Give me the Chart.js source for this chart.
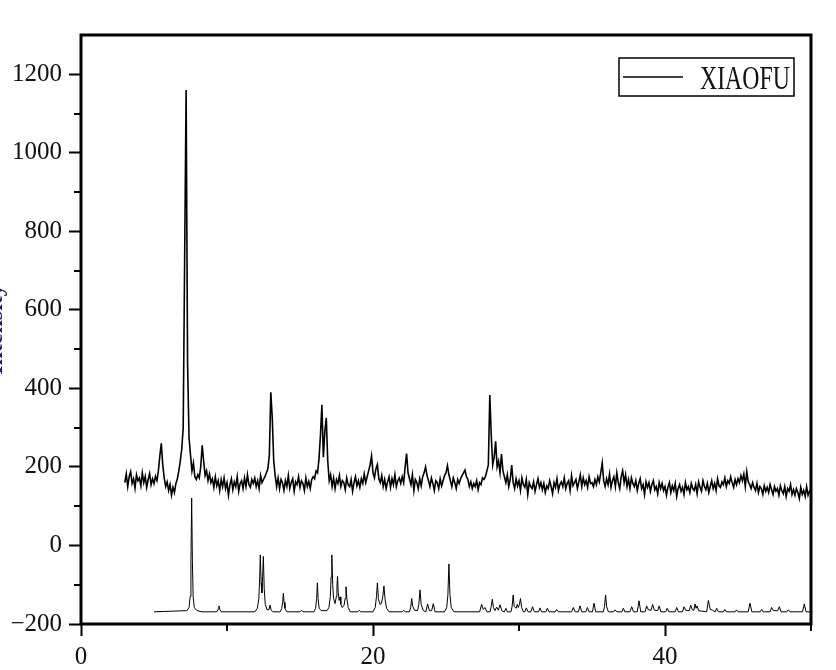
<!DOCTYPE html>
<html>
<head>
<meta charset="utf-8">
<script src="https://cdn.jsdelivr.net/npm/chart.js@4.4.1/dist/chart.umd.min.js"></script>
<style>
  html, body { margin: 0; padding: 0; background: #fff; overflow: hidden; }
  #xrd { display: block; margin-left: -20px; }
</style>
</head>
<body>
<canvas id="xrd" width="856" height="670"></canvas>
<script>
// XRD pattern: measured sample (offset up) and simulated pattern (offset down)

// ------------------------------
// measured pattern, one value every 0.1 deg from 3.0 to 50.0 (2-theta)
const EXP_START = 3.0;
const EXP_STEP = 0.1;
const expIntensity = [
  160,182,150,175,188,158,170,146,180,165,   // 3
  172,152,185,160,176,148,168,183,155,170,   // 4
  158,176,165,190,228,260,205,172,150,162,   // 5
  140,155,128,148,135,158,170,190,215,245,   // 6
  300,733,1160,462,275,230,190,210,175,168,  // 7
  180,172,200,255,215,178,190,165,182,160,   // 8
  170,148,175,152,165,140,168,150,172,145,   // 9
  160,128,155,170,142,162,150,175,138,158,   // 10
  165,145,172,150,180,155,148,168,158,172,   // 11
  150,165,145,178,160,168,175,185,195,230,   // 12
  390,325,215,178,150,172,145,168,160,140,   // 13
  165,150,178,145,160,170,138,162,155,175,   // 14
  148,165,158,140,172,150,163,145,168,175,   // 15
  170,190,185,220,280,358,225,290,325,215,   // 16
  165,180,150,172,145,168,158,178,150,165,   // 17
  160,142,172,155,150,168,138,160,175,152,   // 18
  165,148,170,158,182,160,175,190,205,228,   // 19
  185,172,195,206,170,160,178,150,168,145,   // 20
  162,175,148,170,155,180,150,165,172,158,   // 21
  175,160,200,234,185,170,155,180,140,168,   // 22
  160,145,170,152,175,185,200,178,165,150,   // 23
  172,158,140,165,160,145,170,152,165,178,   // 24
  185,203,180,165,150,172,160,145,168,158,   // 25
  170,178,185,192,175,168,150,162,145,158,   // 26
  150,165,142,160,155,172,168,175,190,205,   // 27
  383,280,205,225,265,200,215,185,233,190,   // 28
  175,160,180,150,168,205,160,145,170,152,   // 29
  165,140,172,155,148,168,130,160,150,145,   // 30
  162,138,155,170,148,160,142,158,135,152,   // 31
  145,165,150,132,160,148,170,140,155,162,   // 32
  150,172,145,158,165,140,178,152,160,168,   // 33
  145,162,180,150,172,155,165,148,175,158,   // 34
  160,150,168,155,175,162,185,210,165,150,   // 35
  170,155,182,148,165,175,150,185,160,145,   // 36
  175,190,160,180,150,168,145,172,158,150,   // 37
  165,140,158,170,145,155,130,162,148,160,   // 38
  138,155,165,142,150,132,160,145,158,140,   // 39
  150,128,148,160,135,152,140,158,125,145,   // 40
  155,138,148,130,160,142,150,135,158,145,   // 41
  140,155,132,162,148,138,165,150,142,158,   // 42
  135,150,165,145,158,140,170,152,148,162,   // 43
  155,172,150,165,158,175,160,148,168,155,   // 44
  170,160,178,165,182,150,188,162,155,145,   // 45
  160,148,140,158,135,150,145,130,152,138,   // 46
  148,135,155,142,130,150,138,145,128,152,   // 47
  140,132,150,125,145,138,155,130,142,128,   // 48
  145,135,120,148,130,140,125,150,128,138,   // 49
  132                                        // 50
];

// simulated pattern (2-theta / intensity pairs, same order)
const simTwoTheta = [
  5.0, 7.25, 7.4, 7.48, 7.53, 7.58, 7.63, 7.68, 7.76, 7.95, 8.3,
  9.3, 9.4, 9.45, 9.5, 9.6,
  11.9, 12.08, 12.18, 12.24, 12.28, 12.34, 12.39, 12.44, 12.49, 12.55, 12.62, 12.75, 12.88, 12.95, 13.02, 13.15,
  13.65, 13.75, 13.81, 13.86, 13.91, 13.97, 14.1,
  15.0, 15.1, 15.2,
  15.95, 16.07, 16.14, 16.19, 16.24, 16.31, 16.45,
  16.85, 16.98, 17.08, 17.13, 17.18, 17.24, 17.3, 17.4, 17.49, 17.53, 17.57, 17.62, 17.68, 17.74, 17.8, 17.9,
  18.02, 18.09, 18.15, 18.21, 18.3, 18.45,
  18.97, 19.07, 19.17,
  20.0, 20.15, 20.24, 20.3, 20.37, 20.47, 20.58, 20.68, 20.75, 20.82, 20.93, 21.1,
  22.0, 22.1, 22.2,
  22.5, 22.58, 22.65, 22.72, 22.85, 23.05, 23.14, 23.22, 23.3, 23.45,
  23.62, 23.74, 23.86, 24.02, 24.13, 24.25,
  24.9, 25.05, 25.13, 25.2, 25.27, 25.36, 25.55,
  27.3, 27.44, 27.55, 27.67, 27.8,
  28.02, 28.1, 28.17, 28.25, 28.35, 28.47, 28.58, 28.7, 28.82,
  29.0, 29.1, 29.2,
  29.45, 29.53, 29.6, 29.67, 29.8, 29.88, 29.95, 30.03, 30.1, 30.18, 30.3,
  30.4, 30.5, 30.62, 30.82, 30.93, 31.05, 31.34, 31.44, 31.55, 31.84, 31.94, 32.05,
  32.48, 32.58, 32.7, 33.6, 33.72, 33.85, 34.07, 34.18, 34.3, 34.58, 34.68, 34.8,
  35.03, 35.14, 35.25, 35.78, 35.86, 35.93, 36.0, 36.12,
  36.48, 36.58, 36.7, 37.05, 37.15, 37.25, 37.6, 37.72, 37.84, 38.1, 38.22, 38.34,
  38.64, 38.74, 38.86, 39.05, 39.15, 39.27, 39.5, 39.6, 39.72,
  40.05, 40.15, 40.27, 40.7, 40.8, 40.92, 41.2, 41.3, 41.42, 41.66, 41.76, 41.88,
  41.98, 42.05, 42.13, 42.2, 42.3, 42.85, 42.97, 43.1, 43.25,
  43.44, 43.54, 43.66, 44.0, 44.1, 44.2, 44.8, 44.9, 45.0,
  45.7, 45.82, 45.95, 46.52, 46.62, 46.72, 47.2, 47.3, 47.42, 47.72, 47.83, 47.95,
  48.35, 48.45, 48.55, 49.42, 49.54, 49.66, 50.0
];
const simIntensity = [
  -169, -166, -158, -130, -40, 121, -40, -130, -158, -166, -169,
  -169, -162, -154, -162, -169,
  -169, -160, -135, -80, -24, -95, -121, -80, -28, -110, -150, -164, -163, -152, -164, -169,
  -169, -160, -145, -122, -145, -160, -169,
  -169, -165, -169,
  -169, -160, -135, -95, -135, -160, -166,
  -166, -158, -130, -80, -24, -100, -135, -148, -130, -105, -79, -120, -140, -131, -150, -158,
  -152, -135, -105, -135, -158, -169,
  -169, -165, -169,
  -169, -158, -130, -95, -135, -150, -148, -128, -103, -135, -160, -169,
  -169, -165, -169,
  -169, -158, -135, -155, -165, -166, -150, -113, -150, -166,
  -169, -149, -166, -166, -148, -169,
  -169, -158, -125, -47, -125, -158, -169,
  -169, -150, -163, -158, -169,
  -169, -155, -137, -158, -166, -157, -165, -151, -166,
  -169, -160, -169,
  -169, -155, -126, -155, -160, -150, -158, -150, -135, -158, -169,
  -169, -159, -169, -169, -156, -169, -169, -159, -169, -169, -160, -169,
  -169, -163, -169, -169, -158, -169, -169, -154, -169, -169, -158, -169,
  -169, -147, -169, -169, -155, -126, -155, -169,
  -169, -164, -169, -169, -160, -169, -169, -156, -169, -169, -141, -169,
  -169, -154, -164, -165, -150, -165, -166, -154, -169,
  -169, -160, -169, -169, -158, -169, -169, -156, -165, -166, -152, -164,
  -165, -149, -160, -154, -166, -169, -140, -163, -165,
  -169, -160, -169, -169, -163, -169, -169, -164, -169,
  -169, -147, -169, -169, -163, -169, -169, -158, -166, -166, -156, -169,
  -169, -164, -169, -169, -149, -169, -169
];

// axis ticks
const X_MIN = 0, X_MAX = 50, X_STEP = 20;
const Y_MIN = -200, Y_MAX = 1300, Y_STEP = 200;
const xMinorTicks = [10, 30, 50];
const yMinorTicks = [-100, 100, 300, 500, 700, 900, 1100];

const SERIES_LABEL = 'XIAOFU';
const Y_TITLE = 'Intensity';

// ------------------------------
const FONT = "'Liberation Serif', 'Times New Roman', serif";
const INK = '#111';

const expPoints = expIntensity.map((v, i) => ({ x: +(EXP_START + i * EXP_STEP).toFixed(2), y: v }));
const simPoints = simTwoTheta.map((x, i) => ({ x, y: simIntensity[i] }));

// tick text with a real minus sign, as in the original plot
const fmtTick = v => (v < 0 ? '\u2212' + Math.abs(v) : String(v));

// frame round the plot, short minor ticks and the boxed legend
const framePlugin = {
  id: 'frame',
  afterDraw(chart) {
    const { ctx, chartArea: a, scales } = chart;
    ctx.save();
    ctx.strokeStyle = '#000';
    ctx.lineWidth = 3;
    ctx.strokeRect(a.left, a.top, a.right - a.left, a.bottom - a.top);

    ctx.lineWidth = 2;
    ctx.beginPath();
    xMinorTicks.forEach(v => {
      const px = Math.round(scales.x.getPixelForValue(v));
      ctx.moveTo(px, a.bottom);
      ctx.lineTo(px, a.bottom + 7);
    });
    yMinorTicks.forEach(v => {
      const py = Math.round(scales.y.getPixelForValue(v));
      ctx.moveTo(a.left, py);
      ctx.lineTo(a.left - 7, py);
    });
    ctx.stroke();

    // legend
    const bx = a.right - 192, by = a.top + 23, bw = 175, bh = 38;
    ctx.lineWidth = 1.5;
    ctx.strokeRect(bx, by, bw, bh);
    ctx.lineWidth = 1.3;
    ctx.beginPath();
    ctx.moveTo(bx + 4, by + 19);
    ctx.lineTo(bx + 64, by + 19);
    ctx.stroke();
    ctx.fillStyle = INK;
    ctx.font = `34px ${FONT}`;
    ctx.textBaseline = 'alphabetic';
    ctx.translate(bx + 81, by + 31);
    ctx.scale(0.7, 1);
    ctx.fillText(chart.data.datasets[0].label, 0, 0);
    ctx.restore();
  }
};

new Chart(document.getElementById('xrd'), {
  type: 'scatter',
  data: {
    datasets: [
      {
        label: SERIES_LABEL,
        data: expPoints,
        showLine: true,
        borderColor: '#000',
        borderWidth: 1.6,
        pointRadius: 0,
        tension: 0
      },
      {
        label: 'simulated',
        data: simPoints,
        showLine: true,
        borderColor: '#000',
        borderWidth: 1,
        pointRadius: 0,
        tension: 0
      }
    ]
  },
  options: {
    responsive: false,
    animation: false,
    layout: { padding: { top: 35, right: 25, left: 0, bottom: 0 } },
    plugins: {
      legend: { display: false },
      tooltip: { enabled: false }
    },
    scales: {
      x: {
        type: 'linear',
        min: X_MIN,
        max: X_MAX,
        afterFit: s => { s.height = 46; },
        border: { display: false },
        grid: {
          drawOnChartArea: false,
          tickLength: 12,
          tickWidth: 2,
          tickColor: c => (c.tick && c.tick.value % X_STEP === 0) ? '#000' : 'rgba(0,0,0,0)'
        },
        ticks: {
          stepSize: X_STEP,
          autoSkip: false,
          maxRotation: 0,
          padding: 6,
          color: INK,
          font: { family: FONT, size: 25 },
          callback: v => (v % X_STEP === 0 ? fmtTick(v) : '')
        }
      },
      y: {
        min: Y_MIN,
        max: Y_MAX,
        afterFit: s => { s.width = 101; },
        border: { display: false },
        grid: {
          drawOnChartArea: false,
          tickLength: 12,
          tickWidth: 2,
          tickColor: c => (c.tick && c.tick.value % Y_STEP === 0) ? '#000' : 'rgba(0,0,0,0)'
        },
        ticks: {
          stepSize: Y_STEP,
          autoSkip: false,
          padding: 7,
          color: INK,
          font: { family: FONT, size: 25 },
          callback: v => (v % Y_STEP === 0 ? fmtTick(v) : '')
        },
        title: {
          display: true,
          text: Y_TITLE,
          color: '#1c1c5a',
          padding: { top: 1, bottom: 0 },
          font: { family: FONT, size: 24, weight: 'bold' }
        }
      }
    }
  },
  plugins: [framePlugin]
});
</script>
</body>
</html>
